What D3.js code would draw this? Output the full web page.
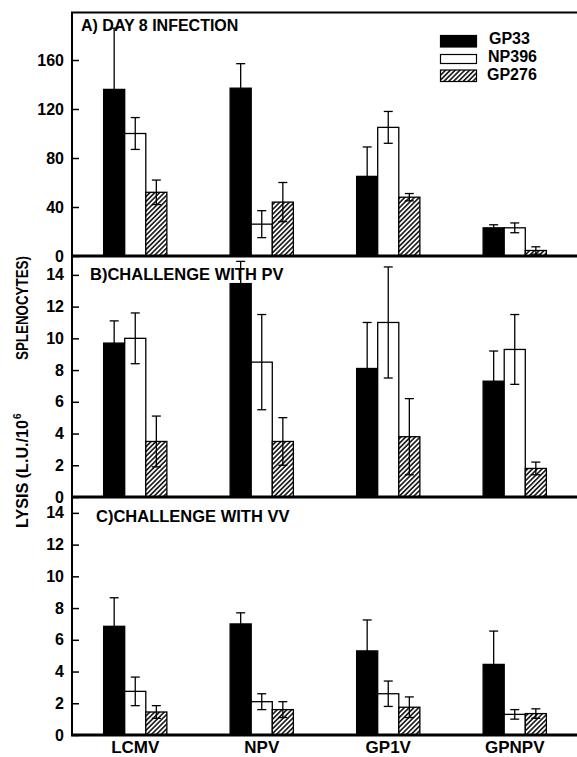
<!DOCTYPE html>
<html>
<head>
<meta charset="utf-8">
<script src="https://cdn.jsdelivr.net/npm/d3@7"></script>
<style>
  body { margin: 0; background: #fff; }
  svg { display: block; font-family: "Liberation Sans", Arial, sans-serif; font-weight: bold; }
  .axis path { display: none; }
  .axis .tick line { stroke: #000; stroke-width: 1.5; }
  .axis .tick text { font-size: 16px; font-weight: bold; fill: #000; font-family: "Liberation Sans", Arial, sans-serif; }
  .x-axis .tick text { font-size: 17px; }
</style>
</head>
<body>
<svg id="chart" width="577" height="757"></svg>
<script>
const viruses = ['LCMV', 'NPV', 'GP1V', 'GPNPV'];
const epitopes = ['GP33', 'NP396', 'GP276'];

// rows = virus, columns = epitope (GP33, NP396, GP276)
const day8Mean = [[136, 100, 52], [137, 26, 44], [65, 105, 48], [23, 23, 4.5]];
const day8Err  = [[50, 13, 10], [20, 11, 16], [24, 13, 3], [2.5, 4, 3]];
const pvMean   = [[9.7, 10.0, 3.5], [13.45, 8.5, 3.5], [8.1, 11.0, 3.8], [7.3, 9.3, 1.8]];
const pvErr    = [[1.4, 1.6, 1.6], [1.4, 3.0, 1.5], [2.9, 3.5, 2.4], [1.9, 2.2, 0.4]];
const vvMean   = [[6.85, 2.75, 1.45], [7.0, 2.1, 1.6], [5.3, 2.6, 1.75], [4.45, 1.3, 1.35]];
const vvErr    = [[1.8, 0.9, 0.4], [0.7, 0.5, 0.5], [1.95, 0.8, 0.65], [2.1, 0.3, 0.3]];

const day8Ticks = [0, 40, 80, 120, 160];
const challengeTicks = [0, 2, 4, 6, 8, 10, 12, 14];

const svg = d3.select('#chart');

// hatch for GP276
svg.append('defs').append('pattern')
    .attr('id', 'hatch')
    .attr('patternUnits', 'userSpaceOnUse')
    .attr('width', 3.4)
    .attr('height', 3.4)
    .attr('patternTransform', 'rotate(45)')
  .call(p => p.append('rect').attr('width', 3.4).attr('height', 3.4).attr('fill', '#fff'))
  .append('rect')
    .attr('width', 1.7)
    .attr('height', 3.4)
    .attr('fill', '#222');

const fillFor = e => e === 'GP33' ? '#000' : e === 'NP396' ? '#fff' : 'url(#hatch)';

// shared x scales
const xScale = d3.scaleBand()
    .domain(viruses)
    .range([72, 578])
    .paddingInner(0.5)
    .paddingOuter(0.25);

const xSub = d3.scaleBand()
    .domain(epitopes)
    .range([0, xScale.bandwidth()]);

class BarPanel {

    constructor(_config, _means, _errs) {
        this.config = {
            top: _config.top,
            bottom: _config.bottom,
            yMax: _config.yMax,
            ticks: _config.ticks,
            title: _config.title,
            titleX: _config.titleX,
            titleY: _config.titleY,
            titleSize: _config.titleSize,
            capWidth: 9
        };
        this.means = _means;
        this.errs = _errs;
        this.initVis();
    }

    initVis() {
        let vis = this;

        vis.yScale = d3.scaleLinear()
            .domain([0, vis.config.yMax])
            .range([vis.config.bottom, vis.config.top]);

        vis.yAxis = d3.axisLeft(vis.yScale)
            .tickValues(vis.config.ticks)
            .tickFormat(d3.format('d'))
            .tickSize(-7)
            .tickPadding(8);

        vis.g = svg.append('g');
        vis.renderVis();
    }

    renderVis() {
        let vis = this;

        const rows = [];
        vis.means.forEach((row, i) => {
            row.forEach((v, j) => {
                rows.push({virus: viruses[i], epitope: epitopes[j], value: v, err: vis.errs[i][j]});
            });
        });

        vis.g.append('g')
            .attr('class', 'axis y-axis')
            .attr('transform', 'translate(72,0)')
            .call(vis.yAxis);

        vis.g.selectAll('.bar')
            .data(rows)
          .join('rect')
            .attr('class', 'bar')
            .attr('x', d => xScale(d.virus) + xSub(d.epitope))
            .attr('width', xSub.bandwidth())
            .attr('y', d => vis.yScale(d.value))
            .attr('height', d => vis.config.bottom - vis.yScale(d.value))
            .attr('fill', d => fillFor(d.epitope))
            .attr('stroke', '#000')
            .attr('stroke-width', 1.3);

        const cx = d => xScale(d.virus) + xSub(d.epitope) + xSub.bandwidth() / 2;
        const lo = d => d.epitope === 'GP33' ? d.value : Math.max(0, d.value - d.err);
        const hw = vis.config.capWidth / 2;

        const err = vis.g.selectAll('.err')
            .data(rows)
          .join('g')
            .attr('class', 'err')
            .attr('stroke', '#000')
            .attr('stroke-width', 1.3);

        err.append('line')
            .attr('x1', cx).attr('x2', cx)
            .attr('y1', d => vis.yScale(d.value + d.err))
            .attr('y2', d => vis.yScale(lo(d)));

        err.append('line')
            .attr('x1', d => cx(d) - hw).attr('x2', d => cx(d) + hw)
            .attr('y1', d => vis.yScale(d.value + d.err))
            .attr('y2', d => vis.yScale(d.value + d.err));

        err.filter(d => d.epitope !== 'GP33').append('line')
            .attr('x1', d => cx(d) - hw).attr('x2', d => cx(d) + hw)
            .attr('y1', d => vis.yScale(lo(d)))
            .attr('y2', d => vis.yScale(lo(d)));

        // zero line of the panel
        vis.g.append('line')
            .attr('x1', 71).attr('x2', 577)
            .attr('y1', vis.config.bottom).attr('y2', vis.config.bottom)
            .attr('stroke', '#000')
            .attr('stroke-width', 3);

        vis.g.append('text')
            .attr('x', vis.config.titleX)
            .attr('y', vis.config.titleY)
            .attr('font-size', vis.config.titleSize)
            .text(vis.config.title);
    }
}

new BarPanel({top: 11, bottom: 256, yMax: 200, ticks: day8Ticks,
    title: 'A) DAY 8 INFECTION', titleX: 81, titleY: 31, titleSize: 16}, day8Mean, day8Err);
new BarPanel({top: 259, bottom: 497, yMax: 15, ticks: challengeTicks,
    title: 'B)CHALLENGE WITH PV', titleX: 90, titleY: 280, titleSize: 16.5}, pvMean, pvErr);
new BarPanel({top: 497, bottom: 735, yMax: 15, ticks: challengeTicks,
    title: 'C)CHALLENGE WITH VV', titleX: 96, titleY: 522, titleSize: 16.5}, vvMean, vvErr);

// frame: left axis line and top border
svg.append('line')
    .attr('x1', 72).attr('x2', 72)
    .attr('y1', 12).attr('y2', 736)
    .attr('stroke', '#000').attr('stroke-width', 2);
svg.append('line')
    .attr('x1', 71).attr('x2', 577)
    .attr('y1', 12.5).attr('y2', 12.5)
    .attr('stroke', '#000').attr('stroke-width', 2);

// category labels
svg.append('g')
    .attr('class', 'axis x-axis')
    .attr('transform', 'translate(0,735)')
    .call(d3.axisBottom(xScale).tickSize(0).tickPadding(6));

// legend
const legendY = [35.5, 54.5, 70];
const legendH = [11.5, 9, 11.5];
const legend = svg.append('g').attr('class', 'legend');
epitopes.forEach((e, i) => {
    legend.append('rect')
        .attr('x', 440.5).attr('y', legendY[i])
        .attr('width', 36).attr('height', legendH[i])
        .attr('fill', fillFor(e))
        .attr('stroke', '#000').attr('stroke-width', 1.2);
    legend.append('text')
        .attr('x', 489 - i).attr('y', [44, 62, 80][i])
        .attr('font-size', 16)
        .text(e);
});

// y axis title, split round the wide gap
const yTitle = svg.append('g')
    .attr('transform', 'translate(28,0) rotate(-90)')
    .attr('font-size', 17);
yTitle.append('text')
    .attr('x', -528).attr('y', 0)
    .attr('textLength', 108).attr('lengthAdjust', 'spacingAndGlyphs')
    .text('LYSIS (L.U./10');
yTitle.append('text')
    .attr('x', -419).attr('y', -7)
    .attr('font-size', 10)
    .text('6');
yTitle.append('text')
    .attr('x', -360).attr('y', 0)
    .attr('textLength', 104).attr('lengthAdjust', 'spacingAndGlyphs')
    .text('SPLENOCYTES)');
</script>
</body>
</html>
